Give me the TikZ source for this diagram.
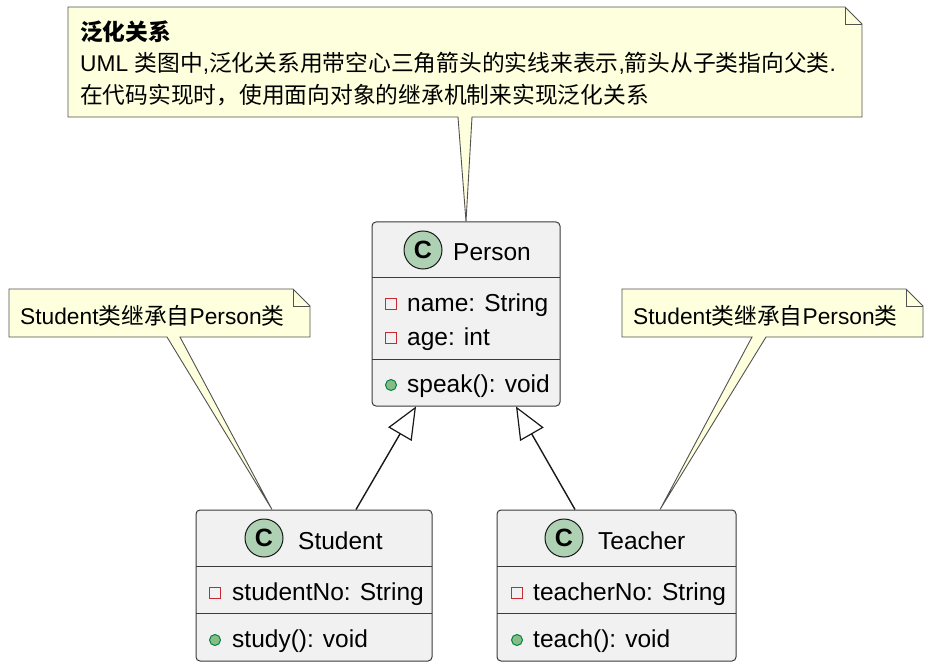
\documentclass[tikz,border=0pt]{standalone}
\usepackage{fontspec}
\setmainfont{Liberation Sans}
\newfontfamily\cjk{Noto Sans CJK SC}
\usetikzlibrary{arrows.meta,calc}
\definecolor{classbg}{HTML}{F1F1F1}
\definecolor{border}{HTML}{181818}
\definecolor{notebg}{HTML}{FEFFDD}
\definecolor{spotbg}{HTML}{ADD1B2}
\definecolor{privred}{HTML}{C82930}
\definecolor{pubfill}{HTML}{84BE84}
\definecolor{pubdraw}{HTML}{038048}
\begin{document}
\begin{tikzpicture}[x=1pt,y=-1pt,
  classbox/.style={draw=border!85, fill=classbg, rounded corners=4pt, line width=1pt, inner sep=0pt},
  sepline/.style={draw=border!85, line width=1pt},
  spot/.style={circle, draw=border, fill=spotbg, line width=1pt, minimum size=38pt, inner sep=0pt,
    font=\fontsize{25}{28}\selectfont\bfseries},
  cname/.style={anchor=base west, inner sep=0pt, font=\fontsize{24.5}{29}\selectfont},
  member/.style={anchor=base west, inner sep=0pt, font=\fontsize{24.5}{29}\selectfont},
  priv/.style={draw=privred, line width=1.3pt, fill=none, minimum size=11.5pt, inner sep=0pt, rectangle},
  pub/.style={circle, draw=pubdraw, fill=pubfill, line width=1pt, minimum size=11pt, inner sep=0pt},
  notebox/.style={draw=border!75, fill=notebg, line width=0.9pt, line join=miter},
  notetext/.style={anchor=base west, inner sep=0pt, font=\fontsize{22.75}{27}\selectfont},
  inherit/.style={draw=border, line width=1.4pt, -{Triangle[length=32pt,width=27pt,fill=white,line width=1.2pt]}}
]
\useasboundingbox (0,0) rectangle (931,668);
\fill[white] (0,0) rectangle (931,668);

% ---------- classes ----------
\node[classbox, minimum width=188pt, minimum height=184pt] (person) at (466,314) {};
\node[classbox, minimum width=236pt, minimum height=151pt] (student) at (314,585.5) {};
\node[classbox, minimum width=239pt, minimum height=151pt] (teacher) at (616.5,585.5) {};

% Person
\draw[sepline] (372,277) -- (560,277);
\draw[sepline] (372,359) -- (560,359);
\node[spot] (pspot) at (423,250) {C};
\node[cname] (pname) at (453,261) {Person};
\node[priv] (pi1) at (391,304) {};
\node[member] (pm1) at (407,311.5) {name: String};
\node[priv] (pi2) at (391,338) {};
\node[member] (pm2) at (407,345.5) {age: int};
\node[pub] (pi3) at (391,385) {};
\node[member] (pm3) at (407,392.5) {speak(): void};

% Student
\draw[sepline] (196,566) -- (432,566);
\draw[sepline] (196,613) -- (432,613);
\node[spot] (sspot) at (264,538) {C};
\node[cname] (sname) at (298,549) {Student};
\node[priv] (si1) at (215,593) {};
\node[member] (sm1) at (232,600.5) {studentNo: String};
\node[pub] (si2) at (215,640) {};
\node[member] (sm2) at (232,647.5) {study(): void};

% Teacher
\draw[sepline] (497,566) -- (736,566);
\draw[sepline] (497,613) -- (736,613);
\node[spot] (tspot) at (564,538) {C};
\node[cname] (tname) at (598,549) {Teacher};
\node[priv] (ti1) at (517,593) {};
\node[member] (tm1) at (533,600.5) {teacherNo: String};
\node[pub] (ti2) at (517,640) {};
\node[member] (tm2) at (533,647.5) {teach(): void};

% ---------- inheritance ----------
\coordinate (sTop) at ($(student.north)+(42,0)$);
\coordinate (pS) at ($(person.south)+(-50,0)$);
\coordinate (tTop) at ($(teacher.north)+(-41.5,0)$);
\coordinate (pT) at ($(person.south)+(50,0)$);
\draw[inherit] (sTop) -- (pS);
\draw[inherit] (tTop) -- (pT);

% ---------- notes ----------
% top note
\draw[notebox] (68,7) -- (845,7) -- (862,24) -- (862,117) -- (472,117) -- (person.north) -- (458,117) -- (68,117) -- cycle;
\draw[notebox, fill=none] (845,7) -- (845,24) -- (862,24);
\node[notetext] (n1a) at (80,41) {{\cjk\bfseries 泛化关系}};
\node[notetext] (n1b) at (80,72) {UML {\cjk 类图中},{\cjk 泛化关系用带空心三角箭头的实线来表示},{\cjk 箭头从子类指向父类}.};
\node[notetext] (n1c) at (80,104) {{\cjk 在代码实现时，使用面向对象的继承机制来实现泛化关系}};

% left note
\coordinate (sNote) at ($(student.north)+(-42,0)$);
\draw[notebox] (9,289) -- (293,289) -- (310,306) -- (310,337) -- (180,337) -- (sNote) -- (167,337) -- (9,337) -- cycle;
\draw[notebox, fill=none] (293,289) -- (293,306) -- (310,306);
\node[notetext] (n2) at (20,324) {Student{\cjk 类继承自}Person{\cjk 类}};

% right note
\coordinate (tNote) at ($(teacher.north)+(43.5,0)$);
\draw[notebox] (622,289) -- (906,289) -- (923,306) -- (923,337) -- (766,337) -- (tNote) -- (752,337) -- (622,337) -- cycle;
\draw[notebox, fill=none] (906,289) -- (906,306) -- (923,306);
\node[notetext] (n3) at (633,324) {Student{\cjk 类继承自}Person{\cjk 类}};
\end{tikzpicture}
\end{document}
